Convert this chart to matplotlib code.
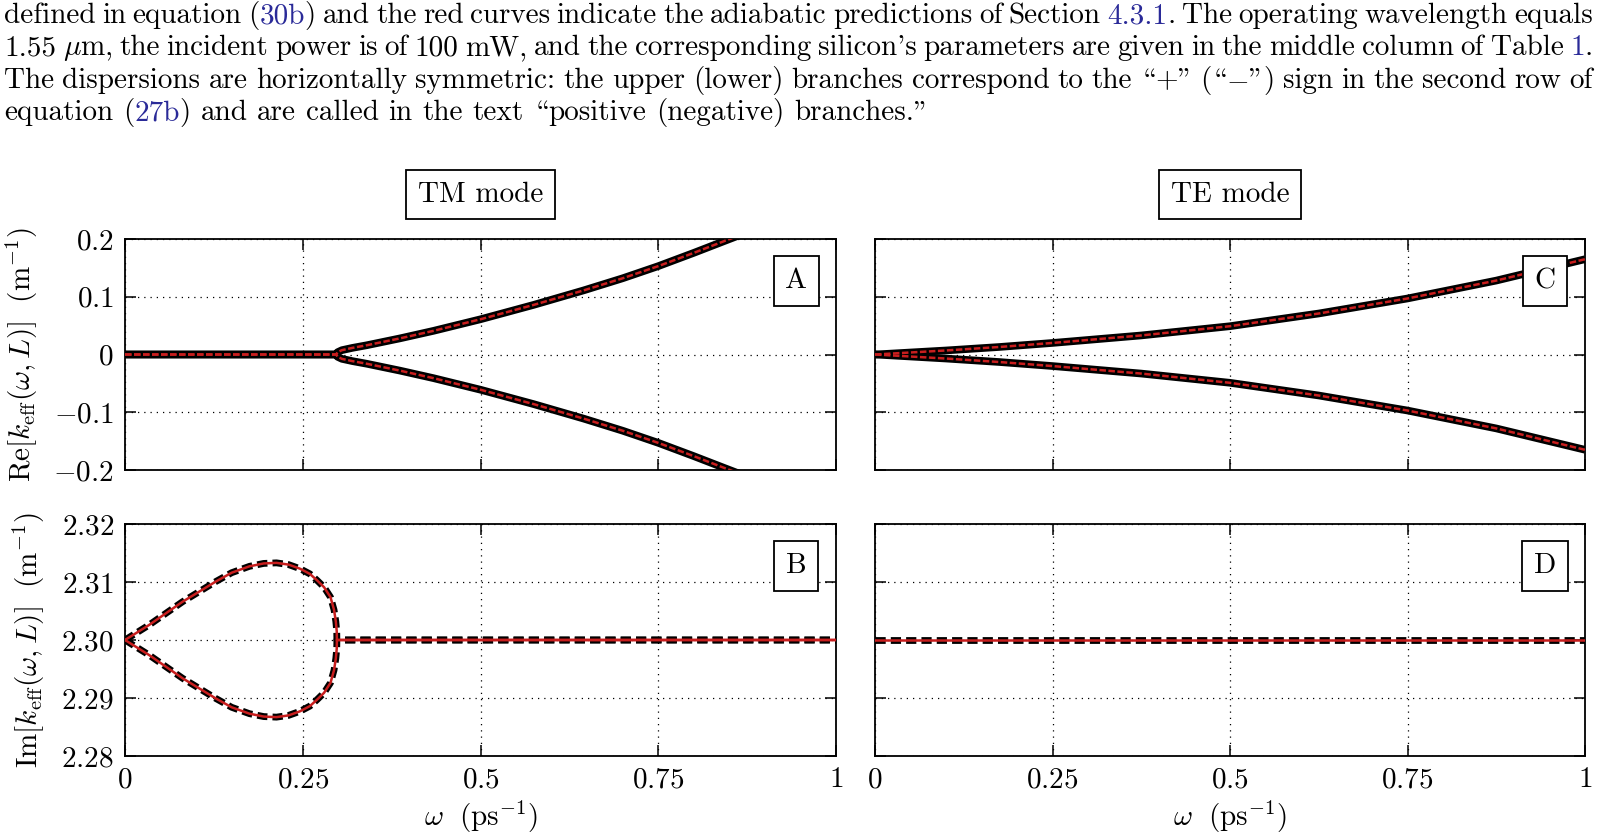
import re
import matplotlib
matplotlib.use('Agg')
import matplotlib.pyplot as plt

plt.rcParams['font.family'] = ['cmr10', 'DejaVu Serif']
plt.rcParams['mathtext.fontset'] = 'cm'
plt.rcParams['axes.formatter.use_mathtext'] = True

FS = 21
RED = '#c81e1e'
BLUE = '#2a2a98'

# ---- data ----
x_ticks = [0, 0.25, 0.5, 0.75, 1]
x_ticklabels = ['$0$', '$0.25$', '$0.5$', '$0.75$', '$1$']
re_ticks = [-0.2, -0.1, 0, 0.1, 0.2]
re_ticklabels = ['$-0.2$', '$-0.1$', '$0$', '$0.1$', '$0.2$']
im_ticks = [2.28, 2.29, 2.30, 2.31, 2.32]
im_ticklabels = ['$2.28$', '$2.29$', '$2.30$', '$2.31$', '$2.32$']

# panel A: TM mode, Re[k_eff]
omega_a = [0, 0.297, 0.299, 0.305, 0.32, 0.34, 0.387, 0.434, 0.5, 0.575,
           0.645, 0.7, 0.75, 0.8, 0.842, 0.86, 0.88]
re_a_pos = [0, 0, 0.004, 0.0075, 0.0115, 0.016, 0.028, 0.041, 0.061, 0.086,
            0.111, 0.132, 0.153, 0.176, 0.196, 0.2045, 0.214]
re_a_neg = [0, 0, -0.004, -0.0075, -0.0115, -0.016, -0.028, -0.041, -0.061, -0.086,
            -0.111, -0.132, -0.153, -0.176, -0.196, -0.2045, -0.214]

# panel B: TM mode, Im[k_eff]
omega_b = [0, 0.034, 0.081, 0.128, 0.15, 0.175, 0.195, 0.213, 0.23, 0.246,
           0.26, 0.27, 0.28, 0.289, 0.294, 0.2965, 0.2978, 0.298, 1.0]
im_b_pos = [2.3000, 2.3026, 2.3066, 2.3101, 2.3116, 2.3127, 2.3132, 2.3133, 2.3130, 2.3123,
            2.3114, 2.3103, 2.3091, 2.3074, 2.3052, 2.3032, 2.3015, 2.3000, 2.3000]
im_b_neg = [2.3000, 2.2974, 2.2934, 2.2899, 2.2884, 2.2873, 2.2868, 2.2867, 2.2870, 2.2877,
            2.2886, 2.2897, 2.2909, 2.2926, 2.2948, 2.2968, 2.2985, 2.3000, 2.3000]

# panel C: TE mode, Re[k_eff]
omega_c = [0, 0.05, 0.1, 0.175, 0.25, 0.375, 0.5, 0.625, 0.75, 0.875, 1.0]
re_c_pos = [0, 0.0035, 0.007, 0.013, 0.020, 0.033, 0.049, 0.071, 0.097, 0.128, 0.165]
re_c_neg = [0, -0.0035, -0.007, -0.013, -0.020, -0.033, -0.049, -0.071, -0.097, -0.128, -0.165]

# panel D: TE mode, Im[k_eff]
omega_d = [0, 1.0]
im_d = [2.30, 2.30]

caption = [
    "defined in equation ({30b}) and the red curves indicate the adiabatic predictions of Section {4.3.1}. The operating wavelength equals",
    r"1.55 $\mu$m, the incident power is of 100 mW, and the corresponding silicon's parameters are given in the middle column of Table {1}.",
    "The dispersions are horizontally symmetric: the upper (lower) branches correspond to the “+” (“$-$”) sign in the second row of",
    "equation ({27b}) and are called in the text “positive (negative) branches.”",
]

W, H = 1600, 839
fig = plt.figure(figsize=(16, 8.39), dpi=100)


def px_rect(x0, y0, x1, y1):
    return [x0 / W, 1 - y1 / H, (x1 - x0) / W, (y1 - y0) / H]


axA = fig.add_axes(px_rect(125, 239, 836, 470))
axC = fig.add_axes(px_rect(875, 239, 1585, 470))
axB = fig.add_axes(px_rect(125, 524, 836, 756))
axD = fig.add_axes(px_rect(875, 524, 1585, 756))

for ax in (axA, axB, axC, axD):
    ax.set_xlim(0, 1)
    ax.set_xticks(x_ticks)
    ax.grid(True, color='k', lw=0.9, ls=(0, (1, 4)))
    ax.tick_params(direction='in', length=8, width=1.1, top=True, right=True,
                   labelsize=FS, pad=8)
    for sp in ax.spines.values():
        sp.set_linewidth(1.3)

for ax in (axA, axC):
    ax.set_ylim(-0.2, 0.2)
    ax.set_yticks(re_ticks)
    ax.set_yticklabels(re_ticklabels)
    ax.tick_params(labelbottom=False)
for ax in (axB, axD):
    ax.set_ylim(2.28, 2.32)
    ax.set_yticks(im_ticks)
    ax.set_yticklabels(im_ticklabels)
    ax.set_xticklabels(x_ticklabels)
    ax.set_xlabel(r'$\omega\ \ (\mathrm{ps}^{-1})$', fontsize=FS, labelpad=4)
for ax in (axC, axD):
    ax.tick_params(labelleft=False)


def re_curve(ax, x, y):
    ax.plot(x, y, color='k', lw=5.5, solid_capstyle='butt', solid_joinstyle='round', zorder=3)
    ax.plot(x, y, color=RED, lw=1.8, ls=(0, (2.6, 1.0)), zorder=4)


def im_curve(ax, x, y):
    ax.plot(x, y, color='k', lw=4.9, ls=(0, (1.5, 0.75)), dash_capstyle='butt', zorder=3)
    ax.plot(x, y, color=RED, lw=1.8, zorder=4)


re_curve(axA, omega_a, re_a_pos)
re_curve(axA, omega_a, re_a_neg)
im_curve(axB, omega_b, im_b_pos)
im_curve(axB, omega_b, im_b_neg)
re_curve(axC, omega_c, re_c_pos)
re_curve(axC, omega_c, re_c_neg)
im_curve(axD, omega_d, im_d)

axA.set_ylabel(r'$\mathrm{Re}[k_{\mathrm{eff}}(\omega,L)]\ \ (\mathrm{m}^{-1})$', fontsize=FS, labelpad=10)
axB.set_ylabel(r'$\mathrm{Im}[k_{\mathrm{eff}}(\omega,L)]\ \ (\mathrm{m}^{-1})$', fontsize=FS, labelpad=10)

box = dict(boxstyle='square,pad=0.4', fc='white', ec='k', lw=1.3)
for ax, s in ((axA, 'A'), (axB, 'B'), (axC, 'C'), (axD, 'D')):
    ax.text(0.944, 0.818, s, transform=ax.transAxes, ha='center', va='center',
            fontsize=FS, zorder=10, bbox=box)

fig.text(480.5 / W, 1 - 194.5 / H, 'TM mode', ha='center', va='center', fontsize=FS, bbox=box)
fig.text(1230 / W, 1 - 194.5 / H, 'TE mode', ha='center', va='center', fontsize=FS, bbox=box)

# ---- caption text above the figure, justified ----
renderer = fig.canvas.get_renderer()


def split_word(word):
    segs = []
    for part in re.split(r'(\{[^}]*\}|“|”)', word):
        if not part:
            continue
        if part.startswith('{'):
            segs.append((part[1:-1], BLUE))
        elif part == '“':
            segs.append(('\\', 'k'))   # cmr10 slot of the opening quotes
        elif part == '”':
            segs.append(('"', 'k'))    # cmr10 slot of the closing quotes
        else:
            segs.append((part, 'k'))
    return segs


def text_width(s):
    t = fig.text(0, 0, s, fontsize=FS)
    w = t.get_window_extent(renderer).width
    t.remove()
    return w


left, right = 4, 1593
space = 0.333 * FS * 100 / 72
for i, line in enumerate(caption):
    y = 1 - (23 + 32.4 * i) / H
    words = [split_word(w) for w in line.split(' ')]
    widths = [[text_width(s) for s, c in w] for w in words]
    total = sum(sum(w) for w in widths)
    if i < len(caption) - 1:
        gap = (right - left - total) / (len(words) - 1)
    else:
        gap = space
    x = left
    for w, ws in zip(words, widths):
        for (s, c), sw in zip(w, ws):
            fig.text(x / W, y, s, fontsize=FS, color=c, ha='left', va='baseline')
            x += sw
        x += gap

fig.savefig('out.png', dpi=100)
